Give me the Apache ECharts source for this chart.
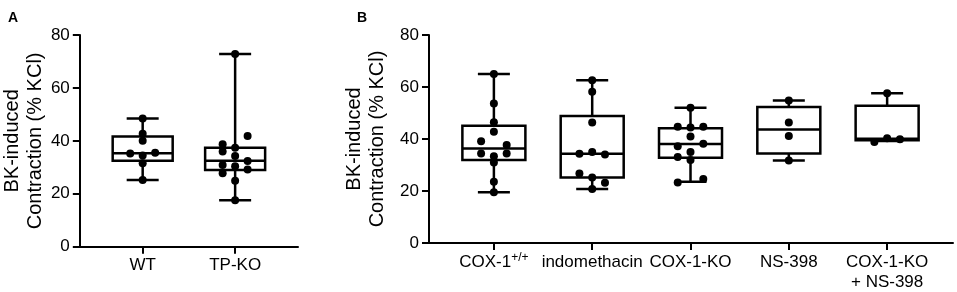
<!DOCTYPE html>
<html>
<head>
<meta charset="utf-8">
<script src="https://cdn.jsdelivr.net/npm/echarts@6/dist/echarts.min.js"></script>
<style>
  html, body { margin: 0; padding: 0; background: #fff; }
  #chart { width: 957px; height: 292px; }
</style>
</head>
<body>
<div id="chart"></div>
<script>
// panel A
const catsA = ['WT', 'TP-KO'];
// [min, q1, median, q3, max]
const boxesA = [
  [25.2, 32.5, 35.3, 41.6, 48.4],
  [17.6, 29.0, 32.5, 37.4, 72.8]
];
// [lane (-1 left, 0 centre, 1 right), value]
const ptsWT = [[0, 48.4], [0, 42.7], [0, 40.0], [-1, 35.2], [1, 35.5], [0, 34.5], [0, 31.5], [0, 25.2]];
const ptsTPKO = [[0, 72.8], [1, 41.8], [-1, 38.7], [0, 37.4], [-1, 36.0], [0, 34.3], [1, 32.4],
  [-1, 30.9], [0, 30.4], [1, 29.2], [-1, 27.8], [0, 24.9], [0, 17.6]];

// panel B
const catsB = ['COX-1+/+', 'indomethacin', 'COX-1-KO', 'NS-398', 'COX-1-KO\n+ NS-398'];
const boxesB = [
  [19.5, 31.9, 36.3, 45.1, 65.0],
  [20.8, 25.2, 34.3, 48.8, 62.6],
  [23.6, 32.8, 38.1, 44.1, 52.0],
  [31.7, 34.4, 43.7, 52.3, 54.8],
  [39.2, 39.5, 40.1, 52.8, 57.6]
];
const ptsCox = [[0, 65.0], [0, 53.7], [0, 46.4], [0, 42.8], [-1, 39.1], [1, 37.7], [-1, 34.4], [1, 34.4],
  [0, 33.4], [0, 31.0], [0, 23.6], [0, 19.5]];
const ptsIndo = [[0, 62.6], [0, 58.2], [0, 46.3], [-1, 34.3], [0, 35.0], [1, 34.0], [-1, 26.7], [0, 25.2],
  [1, 23.2], [0, 20.8]];
const ptsKO = [[0, 52.0], [-1, 44.7], [0, 44.4], [1, 44.7], [0, 41.0], [-1, 37.2], [1, 38.2], [-1, 33.1],
  [0, 35.0], [0, 31.9], [-1, 23.3], [1, 24.6]];
const ptsNS = [[0, 54.8], [0, 46.3], [0, 41.2], [0, 31.7]];
const ptsKONS = [[0, 57.6], [-1, 38.8], [0, 40.3], [1, 39.9]];

const font = '"Liberation Sans", Arial, Helvetica, sans-serif';

const chart = echarts.init(document.getElementById('chart'));

function toPoints(pts, cat, spread) {
  return pts.map(p => [cat + p[0] * spread, p[1]]);
}

function makeBoxRender(boxW, capW) {
  return function (params, api) {
    const x = api.value(0);
    const pMin = api.coord([x, api.value(1)]);
    const pQ1 = api.coord([x, api.value(2)]);
    const pMed = api.coord([x, api.value(3)]);
    const pQ3 = api.coord([x, api.value(4)]);
    const pMax = api.coord([x, api.value(5)]);
    const cx = pMed[0];
    const st = { stroke: '#000', lineWidth: 2.5, fill: null };
    return {
      type: 'group',
      children: [
        { type: 'line', shape: { x1: cx, y1: pMin[1], x2: cx, y2: pQ1[1] }, style: st },
        { type: 'line', shape: { x1: cx, y1: pQ3[1], x2: cx, y2: pMax[1] }, style: st },
        { type: 'line', shape: { x1: cx - capW / 2, y1: pMin[1], x2: cx + capW / 2, y2: pMin[1] }, style: st },
        { type: 'line', shape: { x1: cx - capW / 2, y1: pMax[1], x2: cx + capW / 2, y2: pMax[1] }, style: st },
        { type: 'rect', shape: { x: cx - boxW / 2, y: pQ3[1], width: boxW, height: pQ1[1] - pQ3[1] },
          style: { stroke: '#000', lineWidth: 2.5, fill: '#fff' } },
        { type: 'line', shape: { x1: cx - boxW / 2, y1: pMed[1], x2: cx + boxW / 2, y2: pMed[1] }, style: st }
      ]
    };
  };
}

function yAxisOpt(gridIndex) {
  return {
    type: 'value',
    gridIndex: gridIndex,
    min: 0,
    max: 80,
    interval: 20,
    name: 'BK-induced\nContraction (% KCl)',
    nameLocation: 'middle',
    nameGap: 30,
    nameTextStyle: { fontSize: 20, color: '#000', fontFamily: font, lineHeight: 23 },
    axisLine: { show: true, onZero: false, lineStyle: { color: '#000', width: 2 } },
    axisTick: { show: true, length: 7, lineStyle: { color: '#000', width: 2 } },
    axisLabel: { fontSize: 17, color: '#000', fontFamily: font, margin: 10 },
    splitLine: { show: false }
  };
}

function xAxisOpt(gridIndex, cats, min, max) {
  const vals = cats.map((c, i) => i);
  return {
    type: 'value',
    gridIndex: gridIndex,
    min: min,
    max: max,
    axisLine: { show: true, onZero: false, lineStyle: { color: '#000', width: 2 } },
    axisTick: { show: true, customValues: vals, length: 7, lineStyle: { color: '#000', width: 2 } },
    axisLabel: {
      customValues: vals,
      fontSize: 17,
      color: '#000',
      fontFamily: font,
      margin: 9,
      lineHeight: 20,
      formatter: function (v) {
        const c = cats[Math.round(v)];
        if (c === 'COX-1+/+') return '{n|COX-1}{s|+/+}';
        return c;
      },
      rich: {
        n: { fontSize: 17, color: '#000', fontFamily: font, lineHeight: 20 },
        s: { fontSize: 12, color: '#000', fontFamily: font, verticalAlign: 'top', lineHeight: 12 }
      }
    },
    splitLine: { show: false }
  };
}

function scatterOpt(idx, data) {
  return {
    type: 'scatter',
    xAxisIndex: idx,
    yAxisIndex: idx,
    data: data,
    symbolSize: 8,
    itemStyle: { color: '#000', opacity: 1 },
    z: 5,
    silent: true
  };
}

const spreadA = 0.135;
const spreadB = 0.13;

const option = {
  animation: false,
  backgroundColor: '#fff',
  title: [
    { text: 'A', left: 3, top: 6, textStyle: { fontSize: 14, fontWeight: 'bold', color: '#000', fontFamily: font } },
    { text: 'B', left: 352, top: 6, textStyle: { fontSize: 14, fontWeight: 'bold', color: '#000', fontFamily: font } }
  ],
  grid: [
    { left: 78, width: 220, top: 35, bottom: 45.3 },
    { left: 429, right: 4, top: 35, bottom: 45.3 }
  ],
  xAxis: [
    xAxisOpt(0, catsA, -0.68, 1.68),
    xAxisOpt(1, catsB, -0.66, 4.67)
  ],
  yAxis: [yAxisOpt(0), yAxisOpt(1)],
  series: [
    {
      type: 'custom',
      xAxisIndex: 0,
      yAxisIndex: 0,
      renderItem: makeBoxRender(60, 32),
      data: boxesA.map((b, i) => [i].concat(b)),
      z: 2,
      silent: true
    },
    {
      type: 'custom',
      xAxisIndex: 1,
      yAxisIndex: 1,
      renderItem: makeBoxRender(63, 32),
      data: boxesB.map((b, i) => [i].concat(b)),
      z: 2,
      silent: true
    },
    scatterOpt(0, toPoints(ptsWT, 0, spreadA).concat(toPoints(ptsTPKO, 1, spreadA))),
    scatterOpt(1, toPoints(ptsCox, 0, spreadB)
      .concat(toPoints(ptsIndo, 1, spreadB))
      .concat(toPoints(ptsKO, 2, spreadB))
      .concat(toPoints(ptsNS, 3, spreadB))
      .concat(toPoints(ptsKONS, 4, spreadB)))
  ]
};

chart.setOption(option);
</script>
</body>
</html>
